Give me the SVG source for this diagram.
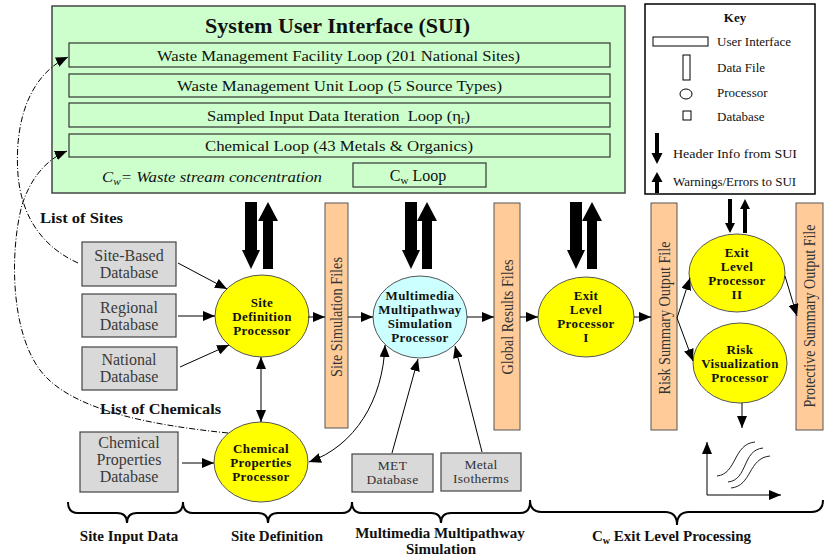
<svg xmlns="http://www.w3.org/2000/svg" width="829" height="557" viewBox="0 0 829 557">
<style>
text{font-family:"Liberation Serif","Times New Roman",serif;}
.loop{fill:#ccffcc;stroke:#333;stroke-width:1.2}
.lt{font-size:15.5px;text-anchor:middle;fill:#111}
.db{fill:#d9d9d9;stroke:#444;stroke-width:1.2}
.dbt{font-size:16px;text-anchor:middle;fill:#3a3a3a}
.dbs{font-size:13.5px;text-anchor:middle;fill:#333;letter-spacing:.3px}
.proc{fill:#ffff00;stroke:#555;stroke-width:1}
.mm{fill:#ccffff;stroke:#555;stroke-width:1}
.pt{font-size:13px;font-weight:bold;text-anchor:middle;letter-spacing:.4px;fill:#111}
.file{fill:#ffcc99;stroke:#555;stroke-width:1}
.ft{font-size:16px;text-anchor:middle;fill:#333}
.c{stroke:#000;stroke-width:1;fill:none}
.dd{stroke:#000;stroke-width:1;fill:none;stroke-dasharray:6 2 1 2}
.brace{stroke:#000;stroke-width:2;fill:none}
.bl{font-size:15px;font-weight:bold;text-anchor:middle;fill:#111}
.kt{font-size:13px;fill:#111}
.blk{fill:#000}
</style>
<defs>
<marker id="ah" viewBox="0 0 12 10" refX="12" refY="5" markerWidth="12" markerHeight="10" markerUnits="userSpaceOnUse" orient="auto-start-reverse">
<path d="M0,0L12,5L0,10z" fill="#000"/>
</marker>
<path id="dn" d="M-6,202H6V250H9L0,269L-9,250H-6Z"/>
<path id="up" d="M0,202L10,221H5V269H-5V221H-10Z"/>
</defs>
<rect width="829" height="557" fill="#fff"/>

<g id="sui">
<rect x="52" y="6" width="573" height="187" fill="#ccffcc" stroke="#444" stroke-width="1.5"/>
<text x="337.5" y="33" font-size="20" font-weight="bold" text-anchor="middle" fill="#111" textLength="265" lengthAdjust="spacingAndGlyphs">System User Interface (SUI)</text>
<g id="loop-facility"><rect class="loop" x="69" y="43" width="541" height="24"/><text class="lt" x="338.5" y="60.5" textLength="363" lengthAdjust="spacingAndGlyphs">Waste Management Facility Loop (201 National Sites)</text></g>
<g id="loop-unit"><rect class="loop" x="69" y="74" width="541" height="23"/><text class="lt" x="339.5" y="91" textLength="325" lengthAdjust="spacingAndGlyphs">Waste Management Unit Loop (5 Source Types)</text></g>
<g id="loop-sampled"><rect class="loop" x="69" y="103" width="541" height="24"/><text class="lt" x="338.5" y="121" textLength="263" lengthAdjust="spacingAndGlyphs">Sampled Input Data Iteration&#160; Loop (η<tspan font-size="10" dy="2">r</tspan><tspan dy="-2">)</tspan></text></g>
<g id="loop-chemical"><rect class="loop" x="69" y="134" width="541" height="23"/><text class="lt" x="339" y="151" textLength="268" lengthAdjust="spacingAndGlyphs">Chemical Loop (43 Metals &amp; Organics)</text></g>
<text x="102" y="182" font-size="15" font-style="italic" fill="#111" textLength="220" lengthAdjust="spacingAndGlyphs">C<tspan font-size="10" dy="3">w</tspan><tspan dy="-3">= Waste stream concentration</tspan></text>
<g id="loop-cw"><rect class="loop" x="353" y="163" width="133" height="24"/><text x="418" y="181" font-size="16" text-anchor="middle" fill="#111">C<tspan font-size="11" dy="3">w</tspan><tspan dy="-3"> Loop</tspan></text></g>
</g>

<g id="key">
<rect x="645" y="4" width="170" height="190" fill="#fff" stroke="#000" stroke-width="1.5"/>
<text x="735" y="22" font-size="13" font-weight="bold" text-anchor="middle" fill="#111">Key</text>
<rect x="653" y="37" width="55" height="9" fill="#fff" stroke="#000"/>
<text class="kt" x="717" y="46">User Interface</text>
<rect x="683" y="55" width="7" height="25" fill="#fff" stroke="#000"/>
<text class="kt" x="717" y="72">Data File</text>
<ellipse cx="686" cy="94" rx="6" ry="5" fill="#fff" stroke="#000"/>
<text class="kt" x="717" y="97">Processor</text>
<rect x="683" y="111" width="8" height="9" fill="#fff" stroke="#000"/>
<text class="kt" x="717" y="121">Database</text>
<path class="blk" d="M655,133H659V153H662.5L657,164L651.5,153H655Z"/>
<text class="kt" x="673" y="158" textLength="124" lengthAdjust="spacingAndGlyphs">Header Info from SUI</text>
<path class="blk" d="M657,172L662.5,182H659V193H655V182H651.5Z"/>
<text class="kt" x="673" y="186">Warnings/Errors to SUI</text>
</g>

<g id="site-based-db"><rect class="db" x="82" y="242" width="94" height="44"/><text class="dbt" x="129" y="261">Site-Based</text><text class="dbt" x="129" y="278">Database</text></g>
<g id="regional-db"><rect class="db" x="82" y="294" width="94" height="43"/><text class="dbt" x="129" y="313">Regional</text><text class="dbt" x="129" y="330">Database</text></g>
<g id="national-db"><rect class="db" x="82" y="347" width="95" height="43"/><text class="dbt" x="129" y="365">National</text><text class="dbt" x="129" y="382">Database</text></g>
<g id="chem-db"><rect class="db" x="80" y="432" width="98" height="60"/><text class="dbt" x="129" y="448">Chemical</text><text class="dbt" x="129" y="465">Properties</text><text class="dbt" x="129" y="482">Database</text></g>
<g id="met-db"><rect class="db" x="352" y="454" width="81" height="38"/><text class="dbs" x="392.5" y="470">MET</text><text class="dbs" x="392.5" y="484">Database</text></g>
<g id="metal-isotherms"><rect class="db" x="441" y="453" width="80" height="38"/><text class="dbs" x="481" y="469">Metal</text><text class="dbs" x="481" y="483">Isotherms</text></g>

<g id="site-def-proc"><ellipse class="proc" cx="262" cy="316" rx="47" ry="41"/><text class="pt" x="262" y="307">Site</text><text class="pt" x="262" y="321">Definition</text><text class="pt" x="262" y="335">Processor</text></g>
<g id="chem-proc"><ellipse class="proc" cx="261" cy="462" rx="47" ry="40"/><text class="pt" x="261" y="453">Chemical</text><text class="pt" x="261" y="467">Properties</text><text class="pt" x="261" y="481">Processor</text></g>
<g id="mmsp"><ellipse class="mm" cx="420" cy="317" rx="47" ry="41"/><text class="pt" x="420" y="300">Multimedia</text><text class="pt" x="420" y="314">Multipathway</text><text class="pt" x="420" y="328">Simulation</text><text class="pt" x="420" y="342">Processor</text></g>
<g id="exit1"><ellipse class="proc" cx="586" cy="317" rx="48" ry="40"/><text class="pt" x="586" y="300">Exit</text><text class="pt" x="586" y="314">Level</text><text class="pt" x="586" y="328">Processor</text><text class="pt" x="586" y="342">I</text></g>
<g id="exit2"><ellipse class="proc" cx="737" cy="273" rx="48" ry="39"/><text class="pt" x="737" y="257">Exit</text><text class="pt" x="737" y="271">Level</text><text class="pt" x="737" y="285">Processor</text><text class="pt" x="737" y="299">II</text></g>
<g id="risk-vis"><ellipse class="proc" cx="740" cy="363" rx="47" ry="40"/><text class="pt" x="740" y="354">Risk</text><text class="pt" x="740" y="368">Visualization</text><text class="pt" x="740" y="382">Processor</text></g>

<g id="site-sim-files"><rect class="file" x="325" y="203" width="23" height="225"/><text class="ft" transform="translate(342,317) rotate(-90)" textLength="120" lengthAdjust="spacingAndGlyphs">Site Simulation Files</text></g>
<g id="global-results"><rect class="file" x="494" y="203" width="26" height="227"/><text class="ft" transform="translate(512.5,317) rotate(-90)" textLength="115" lengthAdjust="spacingAndGlyphs">Global Results Files</text></g>
<g id="risk-summary"><rect class="file" x="651" y="203" width="26" height="227"/><text class="ft" transform="translate(669.5,318) rotate(-90)" textLength="153" lengthAdjust="spacingAndGlyphs">Risk Summary Output File</text></g>
<g id="protective-summary"><rect class="file" x="796" y="203" width="27" height="227"/><text class="ft" transform="translate(815,316) rotate(-90)" textLength="183" lengthAdjust="spacingAndGlyphs">Protective Summary Output File</text></g>

<g id="connectors">
<path class="c" d="M178,263L227,289" marker-end="url(#ah)"/>
<path class="c" d="M178,316L215,316" marker-end="url(#ah)"/>
<path class="c" d="M180,367L229,345" marker-end="url(#ah)"/>
<path class="c" d="M308,317L325,317" marker-end="url(#ah)"/>
<path class="c" d="M261,357L261,422" marker-start="url(#ah)" marker-end="url(#ah)"/>
<path class="c" d="M182,463L214,463" marker-end="url(#ah)"/>
<path class="c" d="M348,317L373,317" marker-end="url(#ah)"/>
<path class="c" d="M467,317L494,317" marker-end="url(#ah)"/>
<path class="c" d="M520,317L538,317" marker-end="url(#ah)"/>
<path class="c" d="M634,317L651,317" marker-end="url(#ah)"/>
<path class="c" d="M677,318L690,278" marker-end="url(#ah)"/>
<path class="c" d="M677,318L693,361" marker-end="url(#ah)"/>
<path class="c" d="M785,276L797,316" marker-end="url(#ah)"/>
<path class="c" d="M742,403L742,428" marker-end="url(#ah)"/>
<path class="c" d="M309,462C355,446 383,400 385,345" marker-start="url(#ah)" marker-end="url(#ah)"/>
<path class="c" d="M392,453L418,359" marker-end="url(#ah)"/>
<path class="c" d="M482,452L455,346" marker-end="url(#ah)"/>
<path class="dd" d="M78,263C45,248 22,220 18,175C14,120 30,75 68,57" marker-end="url(#ah)"/>
<path class="dd" d="M228,433C150,425 70,410 40,370C10,330 10,250 22,205C30,180 45,160 67,151" marker-end="url(#ah)"/>
<g class="blk">
<use href="#dn" x="251"/><use href="#up" x="268"/>
<use href="#dn" x="411"/><use href="#up" x="427"/>
<use href="#dn" x="576"/><use href="#up" x="592"/>
<path d="M728,199H732V223H735L730,233L725,223H728Z"/>
<path d="M745,199L750,209H747V233H743V209H740Z"/>
</g>
</g>

<text x="40" y="223" font-size="14" font-weight="bold" fill="#111" textLength="83" lengthAdjust="spacingAndGlyphs">List of Sites</text>
<text x="100" y="414" font-size="14" font-weight="bold" fill="#111" textLength="121" lengthAdjust="spacingAndGlyphs">List of Chemicals</text>

<g id="graph-icon">
<path class="c" d="M707,495V442" marker-end="url(#ah)"/>
<path class="c" d="M707,495H781" marker-end="url(#ah)"/>
<path d="M717,476C737,474 733,444 755,442M728,482C748,480 742,450 763,448M731,488C752,486 748,458 770,456" fill="none" stroke="#222" stroke-width="1"/>
</g>

<g id="braces">
<path class="brace" d="M68,502Q68,513 78,513H117Q127,513 127,523Q127,513 137,513H173Q183,513 183,502"/>
<path class="brace" d="M183,502Q183,513 193,513H258Q268,513 268,523Q268,513 278,513H342Q352,513 352,502"/>
<path class="brace" d="M352,502Q352,513 362,513H431Q441,513 441,523Q441,513 451,513H520Q530,513 530,502"/>
<path class="brace" d="M530,500Q530,512 542,512H665Q677,512 677,525Q677,512 689,512H811Q823,512 823,500"/>
<text class="bl" x="129" y="541">Site Input Data</text>
<text class="bl" x="277" y="541">Site Definition</text>
<text class="bl" x="440" y="538">Multimedia Multipathway</text>
<text class="bl" x="441" y="554">Simulation</text>
<text x="592" y="541" font-size="15" font-weight="bold" fill="#111">C<tspan font-size="10" dy="3">w</tspan><tspan dy="-3"> Exit Level Processing</tspan></text>
</g>
</svg>
